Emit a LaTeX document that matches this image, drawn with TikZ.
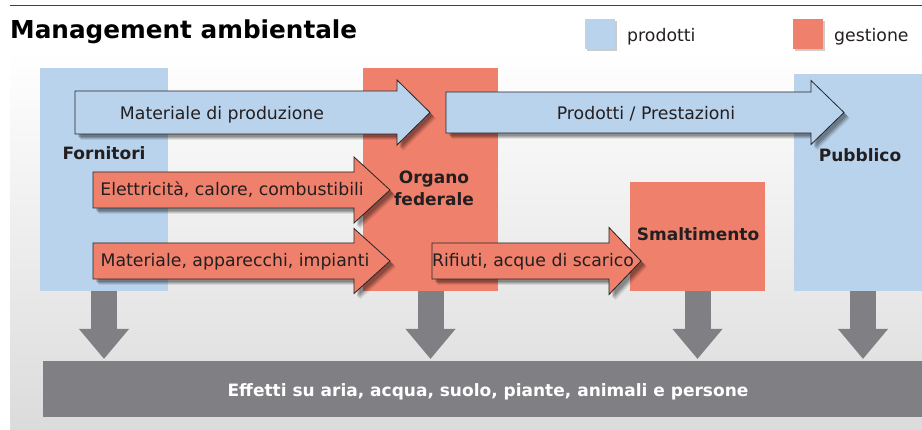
\documentclass[tikz,border=0pt]{standalone}
\usepackage{fontspec}
\setmainfont{DejaVu Sans}
\usetikzlibrary{arrows.meta,shadows}

\definecolor{prodblue}{HTML}{B9D3EC}
\definecolor{gestred}{HTML}{EF806B}
\definecolor{effgray}{HTML}{807F83}
\definecolor{inkgray}{HTML}{231F20}

\tikzset{
  softshadow/.style={
    drop shadow={shadow xshift=6pt, shadow yshift=-6pt, opacity=0.08, fill=black},
    drop shadow={shadow xshift=5pt, shadow yshift=-5pt, opacity=0.12, fill=black},
    drop shadow={shadow xshift=4pt, shadow yshift=-4pt, opacity=0.15, fill=black},
    drop shadow={shadow xshift=3pt, shadow yshift=-3pt, opacity=0.15, fill=black}},
  column/.style={fill=#1, draw=none, inner sep=0pt, outer sep=0pt, anchor=north west},
  flowarrow/.style={fill=#1, draw=black!85, line width=0.8pt, line join=miter, softshadow},
  legendbox/.style={fill=#1, minimum size=30pt, inner sep=0pt, anchor=north west,
    drop shadow={shadow xshift=2pt, shadow yshift=-2pt, opacity=0.2, fill=black}},
  flowtext/.style={text=inkgray, font=\fontsize{17.3}{20}\selectfont, anchor=base, inner sep=0pt},
  boldtext/.style={text=inkgray, font=\fontsize{17}{22}\selectfont\bfseries, anchor=base, inner sep=0pt},
  effarrow/.style={draw=effgray, line width=26pt, -{Triangle[width=48pt,length=30pt]}},
}

% #1 colour, #2 tail x, #3 head start x, #4 tip x, #5 middle y, #6 half shaft, #7 half head
\newcommand{\blockarrow}[7]{%
  \draw[flowarrow=#1] (#2,#5-#6) -- (#3,#5-#6) -- (#3,#5-#7) -- (#4,#5)
    -- (#3,#5+#7) -- (#3,#5+#6) -- (#2,#5+#6) -- cycle;}

\begin{document}
\begin{tikzpicture}[x=1pt,y=-1pt]
    \useasboundingbox (0,0) rectangle (922,430);
    \shade[top color=white, bottom color=black!14] (10,50) rectangle (922,430);
    \draw[black!75, line width=1pt] (10,6) -- (922,6);

    \node[anchor=base west, inner sep=0pt, font=\fontsize{24.7}{30}\selectfont\bfseries] (titolo) at (10,38.5) {Management ambientale};

    % legenda
    \node[legendbox=prodblue] (legprod) at (585,19) {};
    \node[flowtext, anchor=base west] (legprodlbl) at (627,41.7) {prodotti};
    \node[legendbox=gestred] (leggest) at (793,19) {};
    \node[flowtext, anchor=base west] (leggestlbl) at (834,41.7) {gestione};

    % colonne
    \node[column=prodblue, minimum width=128pt, minimum height=223pt] (forn) at (40,68) {};
    \node[column=gestred, minimum width=135pt, minimum height=223pt] (organo) at (363,68) {};
    \node[column=gestred, minimum width=135pt, minimum height=109pt] (smalt) at (630,182) {};
    \node[column=prodblue, minimum width=128pt, minimum height=217pt] (pubb) at (794,74) {};

    % effetti
    \node[column=effgray, minimum width=879pt, minimum height=56pt] (effetti) at (43,361) {};
    \coordinate (efftop) at ([yshift=2pt]effetti.north);
    \draw[effarrow] (forn.south) -- (forn.south |- efftop);
    \draw[effarrow] (organo.south) -- (organo.south |- efftop);
    \draw[effarrow] (smalt.south) -- (smalt.south |- efftop);
    \draw[effarrow] ([xshift=5pt]pubb.south) -- ([xshift=5pt]pubb.south |- efftop);

    % flussi
    \blockarrow{prodblue}{75}{397}{430}{112.5}{21.5}{32.5}
    \blockarrow{prodblue}{446}{811}{844}{112.5}{20.5}{32}
    \blockarrow{gestred}{93}{354}{390}{190}{18}{33}
    \blockarrow{gestred}{93}{354}{390}{261}{18}{32.5}
    \blockarrow{gestred}{432}{609}{641}{261}{18}{33.5}

    \node[flowtext] (matprod) at (222,120) {Materiale di produzione};
    \node[flowtext] (prodprest) at (646,120) {Prodotti / Prestazioni};
    \node[flowtext] (energia) at (232,196) {Elettricità, calore, combustibili};
    \node[flowtext] (impianti) at (235,266.5) {Materiale, apparecchi, impianti};
    \node[flowtext] (rifiuti) at (533,266.5) {Rifiuti, acque di scarico};

    \node[boldtext] (fornlbl) at (104,160) {Fornitori};
    \node[boldtext, anchor=center, align=center] (organolbl) at (434,188.7) {Organo\\federale};
    \node[boldtext] (smaltlbl) at (698,241) {Smaltimento};
    \node[boldtext] (pubblbl) at (860,162) {Pubblico};
    \node[boldtext, text=white] (effettilbl) at (488,397) {Effetti su aria, acqua, suolo, piante, animali e persone};

\end{tikzpicture}
\end{document}
